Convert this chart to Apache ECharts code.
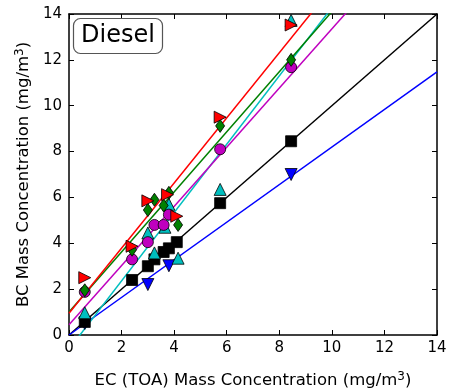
<!DOCTYPE html>
<html><head><meta charset="utf-8">
<script src="https://cdn.jsdelivr.net/npm/echarts@6/dist/echarts.min.js"></script>
<style>html,body{margin:0;padding:0;background:#fff}#c{width:449px;height:390px}</style>
</head><body><div id="c"></div>
<script>
// Data (EC x, BC y) per instrument series
const blackX = [0.6, 2.4, 3.0, 3.25, 3.6, 3.8, 4.1, 5.75, 8.45];
const blackY = [0.57, 2.4, 3.0, 3.3, 3.62, 3.78, 4.05, 5.75, 8.45];
const blueX = [0.6, 3.0, 3.8, 8.45];
const blueY = [0.5, 2.2, 3.02, 7.0];
const cyanX = [0.6, 3.0, 3.25, 3.65, 3.8, 4.15, 5.75, 8.45];
const cyanY = [0.97, 4.45, 3.58, 4.7, 5.7, 3.35, 6.35, 13.72];
const magentaX = [0.6, 2.4, 3.0, 3.25, 3.6, 3.8, 5.75, 8.45];
const magentaY = [1.88, 3.3, 4.05, 4.8, 4.8, 5.25, 8.1, 11.68];
const greenX = [0.6, 2.4, 3.0, 3.25, 3.6, 3.8, 4.15, 5.75, 8.45];
const greenY = [1.95, 3.72, 5.45, 5.9, 5.65, 6.2, 4.8, 9.12, 12.0];
const redX = [0.6, 2.4, 3.0, 3.75, 4.1, 5.75, 8.45];
const redY = [2.5, 3.87, 5.85, 6.12, 5.18, 9.5, 13.52];
// Fitted lines: slope and intercept per series
const fitNames = ['black', 'blue', 'cyan', 'magenta', 'green', 'red'];
const fitSlopes = [1.0, 0.82, 1.49, 1.29, 1.31, 1.42];
const fitIntercepts = [0.0, 0.0, -0.62, 0.45, 1.0, 0.95];
const tickLabels = [0, 2, 4, 6, 8, 10, 12, 14];

const colors = {black:'#000000', blue:'#0000ff', cyan:'#00bfbf', magenta:'#bf00bf', green:'#008000', red:'#ff0000'};
const zip = (xs, ys) => xs.map((x, i) => [x, ys[i]]);

const scatterDefs = [
  {name:'blue', data: zip(blueX, blueY), symbol:'triangle', rot:180, size:12},
  {name:'black', data: zip(blackX, blackY), symbol:'rect', rot:0, size:11},
  {name:'cyan', data: zip(cyanX, cyanY), symbol:'triangle', rot:0, size:12},
  {name:'magenta', data: zip(magentaX, magentaY), symbol:'circle', rot:0, size:11},
  {name:'green', data: zip(greenX, greenY), symbol:'diamond', rot:0, size:[9,13]},
  {name:'red', data: zip(redX, redY), symbol:'triangle', rot:-90, size:12}
];

const series = [];
fitNames.forEach((n, i) => {
  series.push({
    type:'line', xAxisIndex:0, yAxisIndex:0, clip:true, symbol:'none', silent:true, z:2,
    lineStyle:{color:colors[n], width:1.5},
    data:[[0, fitIntercepts[i]], [14, fitIntercepts[i] + 14 * fitSlopes[i]]]
  });
});
scatterDefs.forEach((d, i) => {
  series.push({
    type:'scatter', xAxisIndex:0, yAxisIndex:0, data:d.data, symbol:d.symbol,
    symbolSize:d.size, symbolRotate:d.rot, z:3 + i,
    itemStyle:{color:colors[d.name], borderColor:'#000', borderWidth:0.8, opacity:1}
  });
});

const lblFont = {fontFamily:'DejaVu Sans', fontSize:15, color:'#000'};
const nameRich = {rich:{t:{fontFamily:'DejaVu Sans', fontSize:16.5, color:'#000'}, s:{fontFamily:'DejaVu Sans', fontSize:12, color:'#000', verticalAlign:'top', padding:[0,0,8,0]}}};
const chart = echarts.init(document.getElementById('c'), null, {renderer:'canvas'});
chart.setOption({
  animation:false,
  backgroundColor:'#fff',
  title:{
    text:'Diesel', left:73, top:18,
    padding:[6,8,6,8], borderColor:'#555', borderWidth:1.2, borderRadius:7,
    textStyle:{fontFamily:'DejaVu Sans', fontSize:24, fontWeight:'normal', color:'#000'}
  },
  grid:{left:69, right:12, top:14, bottom:55, show:false, containLabel:false, outerBoundsMode:'none'},
  xAxis:[{
    type:'value', min:0, max:14, interval:2,
    axisLine:{show:true, onZero:false, lineStyle:{color:'#000', width:1.5}},
    axisTick:{show:true, inside:true, length:5, lineStyle:{color:'#000'}},
    axisLabel:Object.assign({margin:6, formatter:v => tickLabels.includes(v) ? String(v) : ''}, lblFont),
    splitLine:{show:false},
    name:'{t|EC (TOA) Mass Concentration (mg/m}{s|3}{t|)}', nameLocation:'middle', nameGap:36,
    nameTextStyle:nameRich
  },{
    type:'value', min:0, max:14, interval:2, position:'top',
    axisLine:{show:true, onZero:false, lineStyle:{color:'#000', width:1.5}},
    axisTick:{show:true, inside:true, length:5, lineStyle:{color:'#000'}},
    axisLabel:{show:false}, splitLine:{show:false}
  }],
  yAxis:[{
    type:'value', min:0, max:14, interval:2,
    axisLine:{show:true, onZero:false, lineStyle:{color:'#000', width:1.5}},
    axisTick:{show:true, inside:true, length:5, lineStyle:{color:'#000'}},
    axisLabel:Object.assign({margin:7}, lblFont),
    splitLine:{show:false},
    name:'{t|BC Mass Concentration (mg/m}{s|3}{t|)}', nameLocation:'middle', nameGap:34, nameRotate:90,
    nameTextStyle:nameRich
  },{
    type:'value', min:0, max:14, interval:2, position:'right',
    axisLine:{show:true, onZero:false, lineStyle:{color:'#000', width:1.5}},
    axisTick:{show:true, inside:true, length:5, lineStyle:{color:'#000'}},
    axisLabel:{show:false}, splitLine:{show:false}
  }],
  series:series
});
</script></body></html>
